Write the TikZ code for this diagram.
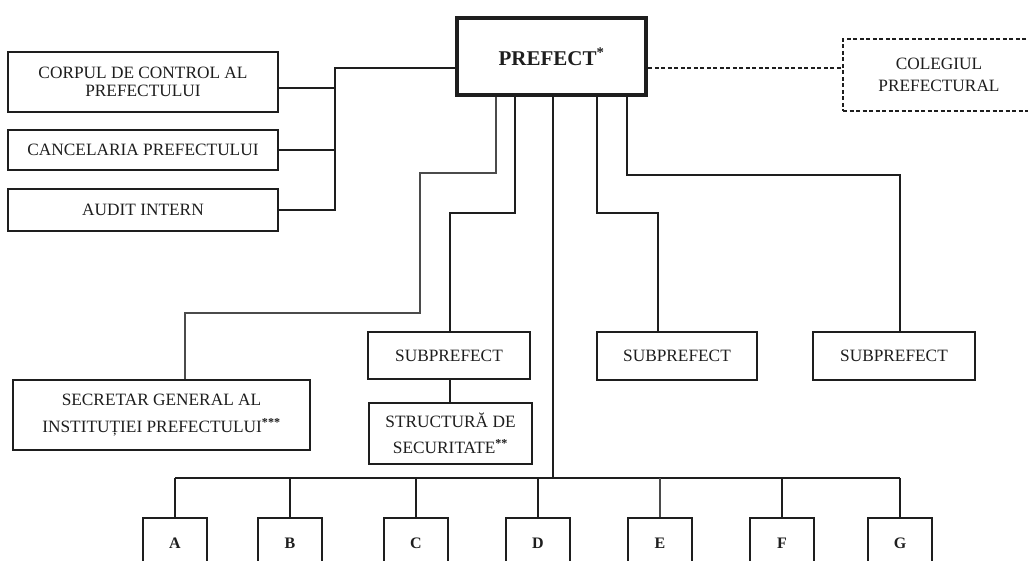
\documentclass[tikz,border=0pt]{standalone}
\usepackage{fontspec}
\setmainfont{Liberation Serif}
\definecolor{ink}{RGB}{30,30,30}
\newcommand{\stars}[1]{\textsuperscript{\bfseries #1}}
\begin{document}
\begin{tikzpicture}[x=1pt,y=-1pt,
  box/.style={draw=ink,line width=1.6pt,fill=white,inner sep=0pt,align=center,text=ink,
    font=\fontsize{17.3}{18.5}\selectfont},
  letterbox/.style={box,minimum width=64pt,minimum height=50pt,font=\fontsize{16}{18}\selectfont\bfseries},
  conn/.style={draw=ink,line width=1.6pt},
  thin/.style={draw=ink!80,line width=1.2pt}]
\path[use as bounding box] (0,0) rectangle (1028,561);
\clip (0,0) rectangle (1028,561);
% nodes
\node[box,line width=4.5pt,minimum width=189pt,minimum height=77pt,font=\fontsize{21}{24}\selectfont\bfseries] (prefect) at (551.5,56.5) {PREFECT\stars{*}};
\node[box,minimum width=270pt,minimum height=60pt] (corpul) at (143,82) {CORPUL DE CONTROL AL\\PREFECTULUI};
\node[box,minimum width=270pt,minimum height=40pt] (cancel) at (143,150) {CANCELARIA PREFECTULUI};
\node[box,minimum width=270pt,minimum height=42pt] (audit) at (143,210) {AUDIT INTERN};
\node[box,dashed,dash pattern=on 4pt off 2.5pt,line width=1.4pt,minimum width=192pt,minimum height=72pt,font=\fontsize{17.3}{21.5}\selectfont] (colegiul) at (939,75) {COLEGIUL\\PREFECTURAL};
\node[box,line width=1.3pt,minimum width=297pt,minimum height=70pt,font=\fontsize{17.3}{27}\selectfont] (secretar) at (161.5,415) {SECRETAR GENERAL AL\\INSTITUȚIEI PREFECTULUI\stars{***}};
\node[box,minimum width=162pt,minimum height=47pt] (sub1) at (449,355.5) {SUBPREFECT};
\node[box,minimum width=160pt,minimum height=48pt] (sub2) at (677,356) {SUBPREFECT};
\node[box,minimum width=162pt,minimum height=48pt] (sub3) at (894,356) {SUBPREFECT};
\node[box,minimum width=163pt,minimum height=61pt,font=\fontsize{17.3}{26.5}\selectfont] (struct) at (450.5,433.5) {STRUCTURĂ DE\\SECURITATE\stars{**}};
\node[letterbox] (A) at (175,543) {A};
\node[letterbox] (B) at (290,543) {B};
\node[letterbox] (C) at (416,543) {C};
\node[letterbox] (D) at (538,543) {D};
\node[letterbox] (E) at (660,543) {E};
\node[letterbox] (F) at (782,543) {F};
\node[letterbox] (G) at (900,543) {G};
% junction coordinates
\coordinate (lj) at (335,68);
\coordinate (bus) at (553,478);
% left staff
\draw[conn] (prefect.west |- lj) -- (lj) |- (audit.east);
\draw[conn] (corpul.east |- 0,88) -- (335,88);
\draw[conn] (cancel.east) -- (335,150);
% colegiul
\draw[draw=ink,line width=1.4pt,dash pattern=on 4pt off 2.5pt] (prefect.east |- 0,68) -- (colegiul.west |- 0,68);
% secretar
\draw[thin] (prefect.south -| 496,0) -- (496,173) -- (420,173) -- (420,313) -- (185,313) -- (secretar.north -| 185,0);
% subprefect 1
\draw[conn] (prefect.south -| 515,0) -- (515,213) -- (450,213) -- (sub1.north -| 450,0);
\draw[conn] (sub1.south -| 450,0) -- (struct.north -| 450,0);
% main trunk
\draw[conn] (prefect.south -| bus) -- (bus);
% subprefect 2
\draw[conn] (prefect.south -| 597,0) -- (597,213) -- (658,213) -- (sub2.north -| 658,0);
% subprefect 3
\draw[conn] (prefect.south -| 627,0) -- (627,175) -- (900,175) -- (sub3.north -| 900,0);
% bus
\draw[conn] (A.north |- bus) -- (G.north |- bus);
\foreach \n in {A,B,C,D,F,G} { \draw[conn] (\n.north |- bus) -- (\n.north); }
\draw[thin] (E.north |- bus) -- (E.north);
\end{tikzpicture}
\end{document}
